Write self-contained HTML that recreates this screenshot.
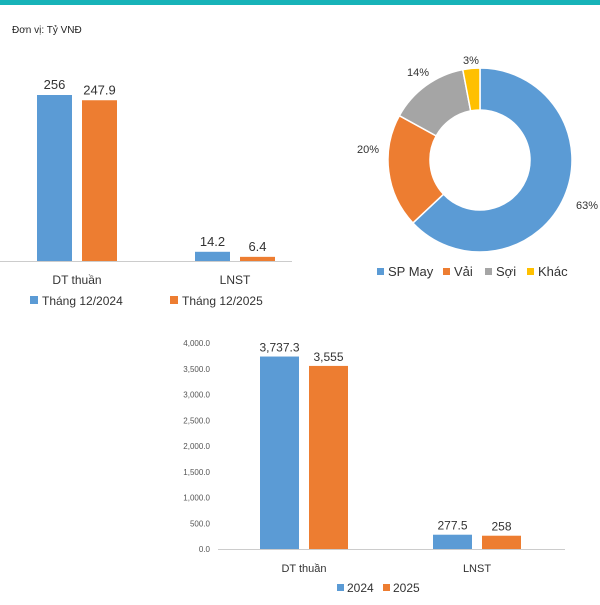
<!DOCTYPE html>
<html><head><meta charset="utf-8"><style>
body{margin:0;background:#fff;width:600px;height:600px;overflow:hidden;font-family:"Liberation Sans",sans-serif}
</style></head><body>
<svg width="600" height="600" font-family="Liberation Sans, sans-serif">
<rect x="0" y="0" width="600" height="5" fill="#17b3b8"/>
<text x="12" y="33" font-size="10" fill="#222">Đơn vị: Tỷ VNĐ</text>
<g id="c1"></g>
<g id="c2"></g>
<g id="c3"></g>
</svg>
<script>
const NS="http://www.w3.org/2000/svg";
const BLUE="#5b9bd5",ORANGE="#ed7d31";
function el(p,t,a,txt){const e=document.createElementNS(NS,t);for(const k in a)e.setAttribute(k,a[k]);if(txt!=null)e.textContent=txt;p.appendChild(e);return e;}

// Chart 1
const c1Cats=["DT thuần","LNST"];
const c1S1=[256,14.2];
const c1S2=[247.9,6.4];
const c1Lbl1=["256","14.2"];
const c1Lbl2=["247.9","6.4"];
const c1Legend=["Tháng 12/2024","Tháng 12/2025"];
// Chart 2
const pieCats=["SP May","Vải","Sợi","Khác"];
const pieVals=[63,20,14,3];
const pieColors=["#5b9bd5","#ed7d31","#a5a5a5","#ffc000"];
// Chart 3
const c3Cats=["DT thuần","LNST"];
const c3S1=[3737.3,277.5];
const c3S2=[3555,258];
const c3Lbl1=["3,737.3","277.5"];
const c3Lbl2=["3,555","258"];
const c3Ticks=[0,500,1000,1500,2000,2500,3000,3500,4000];
const c3TickLbl=["0.0","500.0","1,000.0","1,500.0","2,000.0","2,500.0","3,000.0","3,500.0","4,000.0"];
const c3Legend=["2024","2025"];

(function(){
 const g=document.getElementById('c1');
 const base=261,k=166/256;
 const y=v=>base-v*k;
 const cx=[77,235];
 c1Cats.forEach((c,i)=>{
  const b1=el(g,'rect',{x:cx[i]-40,y:y(c1S1[i]),width:35,height:base-y(c1S1[i]),fill:BLUE});
  
  
  const b2=el(g,'rect',{x:cx[i]+5,y:y(c1S2[i]),width:35,height:base-y(c1S2[i]),fill:ORANGE});
  
  
  const t1=el(g,'text',{x:cx[i]-22.5,y:y(c1S1[i])-6,'font-size':13,'text-anchor':'middle',fill:'#333'},c1Lbl1[i]);
  
  
  const t2=el(g,'text',{x:cx[i]+22.5,y:y(c1S2[i])-6,'font-size':13,'text-anchor':'middle',fill:'#333'},c1Lbl2[i]);
  
  
  const cl=el(g,'text',{x:cx[i],y:284,'font-size':12,'text-anchor':'middle',fill:'#333'},c);
  
  
 });
 const ax=el(g,'line',{x1:0,x2:292,y1:base+.5,y2:base+.5,stroke:'#ccc'});
 
 
 [[30,BLUE],[170,ORANGE]].forEach((p,i)=>{
  const s=el(g,'rect',{x:p[0],y:296,width:8,height:8,fill:p[1]});
  
  
  const t=el(g,'text',{x:p[0]+12,y:305,'font-size':12,fill:'#333'},c1Legend[i]);
  
  
 });
})();

(function(){
 const g=document.getElementById('c2');
 const cx=480,cy=160,R=92,r=50;
 const tot=pieVals.reduce((a,b)=>a+b,0);
 let a0=0;
 const lblPos=[[587,209,'middle'],[368,153,'middle'],[418,76,'middle'],[471,64,'middle']];
 pieVals.forEach((v,i)=>{
  const a1=a0+v/tot*2*Math.PI;
  const P=(rad,a)=>[cx+rad*Math.sin(a),cy-rad*Math.cos(a)];
  const [x0,y0]=P(R,a0),[x1,y1]=P(R,a1),[x2,y2]=P(r,a1),[x3,y3]=P(r,a0);
  const big=(a1-a0)>Math.PI?1:0;
  const p=el(g,'path',{d:`M${x0},${y0}A${R},${R} 0 ${big} 1 ${x1},${y1}L${x2},${y2}A${r},${r} 0 ${big} 0 ${x3},${y3}Z`,fill:pieColors[i],stroke:'#fff','stroke-width':1.5});
  
  
  const t=el(g,'text',{x:lblPos[i][0],y:lblPos[i][1],'font-size':11,'text-anchor':lblPos[i][2],fill:'#333'},v+'%');
  
  
  a0=a1;
 });
 const lx=[377,443,485,527];
 pieCats.forEach((c,i)=>{
  const s=el(g,'rect',{x:lx[i],y:268,width:7,height:7,fill:pieColors[i]});
  
  
  const t=el(g,'text',{x:lx[i]+11,y:276,'font-size':13,fill:'#333'},c);
  
  
 });
})();

(function(){
 const g=document.getElementById('c3');
 const base=549,k=206/4000;
 const y=v=>base-v*k;
 c3Ticks.forEach((t,i)=>{
  const tl=el(g,'text',{x:210,y:y(t)+3,'font-size':8,'text-anchor':'end',fill:'#555'},c3TickLbl[i]);
  
  
 });
 const ax=el(g,'line',{x1:218,x2:565,y1:base+.5,y2:base+.5,stroke:'#ccc'});
 
 
 const cx=[304,477];
 c3Cats.forEach((c,i)=>{
  const b1=el(g,'rect',{x:cx[i]-44,y:y(c3S1[i]),width:39,height:base-y(c3S1[i]),fill:BLUE});
  
  
  const b2=el(g,'rect',{x:cx[i]+5,y:y(c3S2[i]),width:39,height:base-y(c3S2[i]),fill:ORANGE});
  
  
  const t1=el(g,'text',{x:cx[i]-24.5,y:y(c3S1[i])-5,'font-size':12,'text-anchor':'middle',fill:'#333'},c3Lbl1[i]);
  
  
  const t2=el(g,'text',{x:cx[i]+24.5,y:y(c3S2[i])-5,'font-size':12,'text-anchor':'middle',fill:'#333'},c3Lbl2[i]);
  
  
  const cl=el(g,'text',{x:cx[i],y:572,'font-size':11,'text-anchor':'middle',fill:'#333'},c);
  
  
 });
 [[337,BLUE],[383,ORANGE]].forEach((p,i)=>{
  const s=el(g,'rect',{x:p[0],y:584,width:7,height:7,fill:p[1]});
  
  
  const t=el(g,'text',{x:p[0]+10,y:592,'font-size':12,fill:'#333'},c3Legend[i]);
  
  
 });
})();
</script>
</body></html>
